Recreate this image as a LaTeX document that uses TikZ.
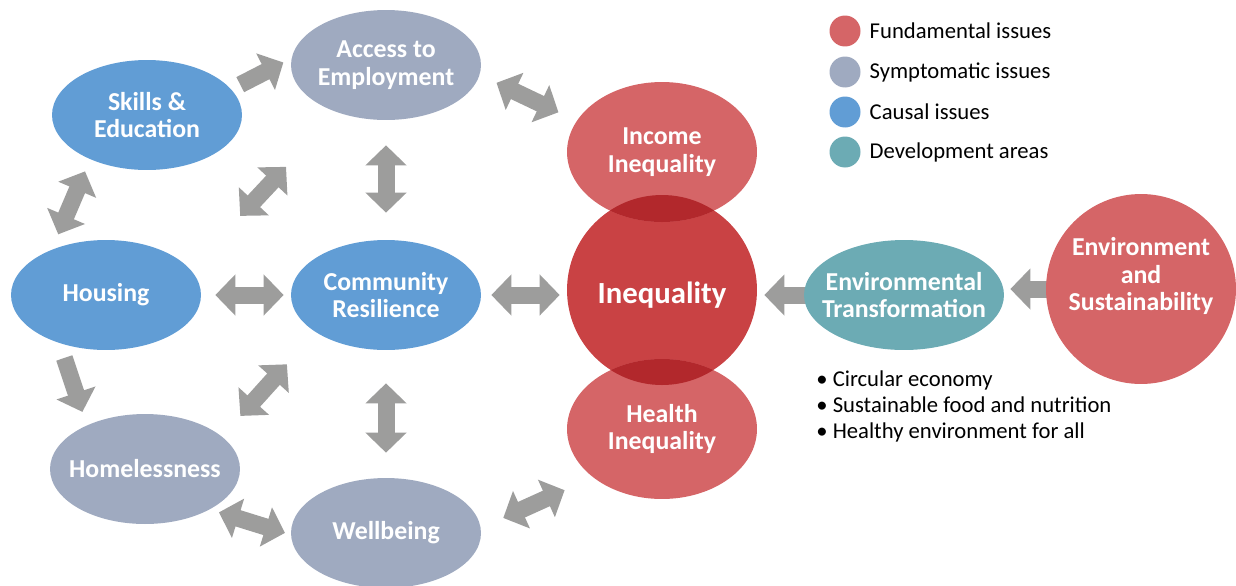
\documentclass[tikz,border=0pt]{standalone}
\usepackage{fontspec}
\setmainfont{Carlito}
\usepackage{xcolor}
\usetikzlibrary{shapes.geometric, arrows.meta, positioning, backgrounds}

\definecolor{fundred}{HTML}{D56567}
\definecolor{corered}{HTML}{C94244}
\definecolor{overlapred}{HTML}{B2282C}
\definecolor{symgray}{HTML}{9FAAC0}
\definecolor{causalblue}{HTML}{619DD5}
\definecolor{devteal}{HTML}{6CABB4}
\definecolor{arrowgray}{HTML}{9D9D9C}

\begin{document}
\begin{tikzpicture}[x=0.02cm, y=-0.02cm,
  lbl/.style={text=white, align=center, font=\bfseries\fontsize{14.7}{15.8}\selectfont},
  issue/.style={lbl, ellipse, inner xsep=-1cm, inner ysep=0pt, minimum width=3.8cm, minimum height=2.2cm},
  causal/.style={issue, fill=causalblue},
  symptom/.style={issue, fill=symgray},
  fund/.style={issue, fill=fundred, minimum height=2.8cm},
  dev/.style={issue, fill=devteal, minimum width=4cm},
  key/.style={circle, inner sep=0pt, minimum size=0.62cm},
  keytext/.style={inner sep=0pt, font=\fontsize{12.9}{14.9}\selectfont},
  twoway/.style={draw=arrowgray, line width=0.34cm, >={Triangle[width=0.8cm,length=0.4cm]}, <->},
  oneway/.style={draw=arrowgray, line width=0.34cm, >={Triangle[width=0.8cm,length=0.4cm]}, ->}
]
\useasboundingbox (0,0) rectangle (1236,585);

% left-hand cluster
\node[causal] (skills) at (147,115) {Skills \&\\Education};
\node[symptom] (access) at (386,65) {Access to\\Employment};
\node[causal] (house) at (106,295) {Housing};
\node[causal] (comm) at (386,295) {Community\\Resilience};
\node[symptom] (homeless) at (145,469) {Homelessness};
\node[symptom] (well) at (386,533) {Wellbeing};

% inequality stack
\node[ellipse, fill=corered, inner sep=0pt, minimum size=3.8cm] (ineq) at (662,290) {};
\node[lbl, font=\bfseries\fontsize{17.5}{20}\selectfont] (ineqtext) at ([yshift=-0.1cm]ineq.center) {Inequality};
\node[fund] (income) at (662,152) {Income\\Inequality};
\node[fund] (health) at (662,429) {Health\\Inequality};
\begin{scope}
  \clip (ineq.center) circle [radius=95];
  \fill[overlapred] (income.center) ellipse [x radius=95, y radius=70];
  \fill[overlapred] (health.center) ellipse [x radius=95, y radius=70];
\end{scope}

% environment branch
\node[dev] (envt) at (904,295) {Environmental\\Transformation};
\node[fund, minimum size=3.8cm] (envs) at (1141,289) {};
\node[lbl] (envstext) at ([yshift=0.26cm]envs.center) {Environment\\and\\Sustainability};

\node[keytext, align=left, anchor=north west] (bullets) at (816,370)
  {• Circular economy\\• Sustainable food and nutrition\\• Healthy environment for all};

% key
\node[key, fill=fundred] (k1) at (845,31) {};
\node[key, fill=symgray] (k2) at (845,72) {};
\node[key, fill=causalblue] (k3) at (845,112) {};
\node[key, fill=devteal] (k4) at (845,152) {};
\node[keytext, right=0.17cm of k1] (t1) {Fundamental issues};
\node[keytext, right=0.17cm of k2] (t2) {Symptomatic issues};
\node[keytext, right=0.17cm of k3] (t3) {Causal issues};
\node[keytext, right=0.17cm of k4] (t4) {Development areas};

% links
\begin{scope}[on background layer]
  \draw[oneway, shorten <=0.2cm, shorten >=0.18cm] (skills.17) -- (access.176);
  \draw[twoway, shorten <=0.37cm, shorten >=0.4cm] (access.-6) -- (income.160);
  \draw[twoway, shorten <=0.26cm, shorten >=0.33cm] (skills.218) -- (house.140);
  \draw[twoway, shorten <=0.5cm, shorten >=0.54cm] (access.south) -- (comm.north);
  \draw[twoway, shorten <=1.46cm, shorten >=1.49cm] (house.17) -- (access.224);
  \draw[twoway, shorten <=0.28cm, shorten >=0.14cm] (house.east) -- (comm.west);
  \draw[twoway, shorten <=0.2cm, shorten >=0.14cm] (comm.east) -- (ineq.west |- comm.east);
  \draw[oneway, shorten <=0.31cm, shorten >=0.28cm] (house.226) -- (homeless.143);
  \draw[twoway, shorten <=0.55cm, shorten >=0.86cm] (homeless.23) -- (comm.208);
  \draw[twoway, shorten <=0.66cm, shorten >=0.5cm] (comm.south) -- (well.north);
  \draw[twoway, shorten <=0.19cm, shorten >=0.12cm] (homeless.-32) -- (well.181);
  \draw[twoway, shorten <=0.49cm, shorten >=0.62cm] (well.3) -- (health.215);
  \draw[oneway, shorten <=-0.1cm, shorten >=0.14cm] (envt.west) -- (ineq.east |- envt.west);
  \draw[oneway, shorten <=-0.1cm, shorten >=0.12cm] (envs.west) -- (envt.east |- envs.west);
\end{scope}
\end{tikzpicture}
\end{document}
